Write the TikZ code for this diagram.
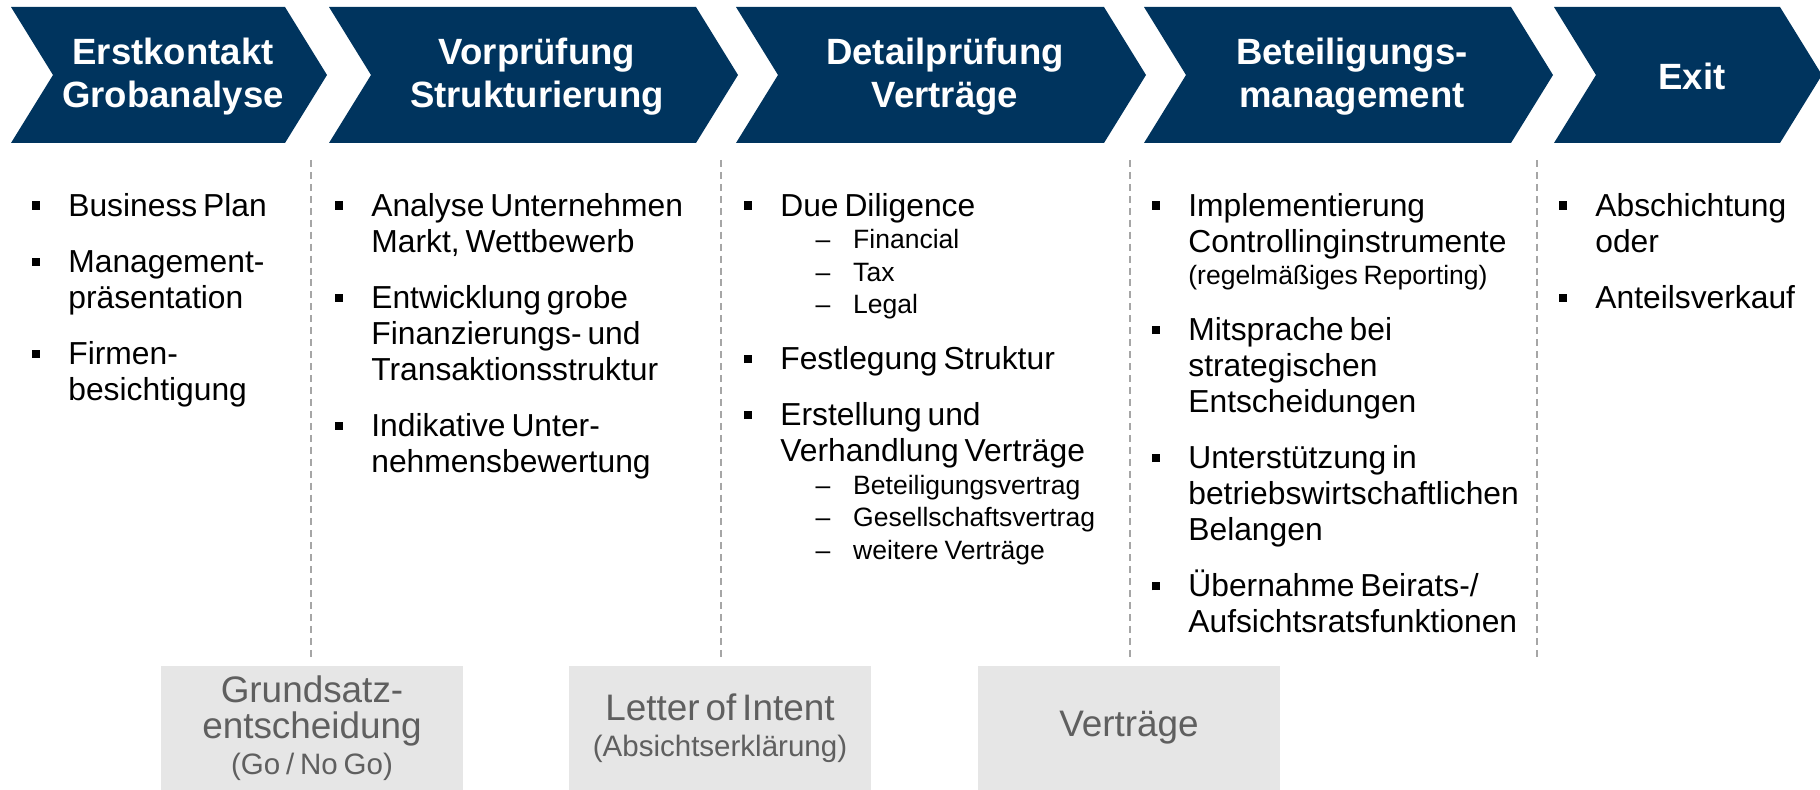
\documentclass[tikz,border=0pt]{standalone}
\usepackage{fontspec}
\setmainfont{Liberation Sans}
\definecolor{phaseblue}{RGB}{0,52,94}
\definecolor{boxgray}{RGB}{230,230,230}
\definecolor{boxtext}{RGB}{95,95,95}
\definecolor{sepgray}{RGB}{166,166,166}
\newcommand{\bodyfont}{\fontsize{18.1}{20.5}\selectfont}
\newcommand{\subfont}{\fontsize{15.1}{18.5}\selectfont}
\newcommand{\bitem}[1]{\par\addvspace{11.4pt}\noindent\llap{\rule[3.7pt]{4.6pt}{4.6pt}\hspace{15.9pt}}#1}
\newcommand{\sitem}[1]{\par{\subfont\noindent\hspace*{41.5pt}\llap{\textendash\hspace{13pt}}#1\par}}
\newcommand{\note}[1]{\par{\subfont\noindent #1\par}}
\newcommand{\chevron}[2]{\fill[phaseblue] (#1,7) -- (#2,7) -- ++(42,68) -- (#2,143) -- (#1,143) -- ++(42,-68) -- cycle;}
\tikzstyle{phase}=[text=white, inner sep=0, text width=200pt, align=center,
  execute at begin node={\bfseries\fontsize{20.8}{24.5}\selectfont}]
\tikzstyle{col}=[anchor=base west, inner sep=0, text width=210pt, align=left,
  execute at begin node=\bodyfont]
\tikzstyle{decision}=[fill=boxgray, text=boxtext, inner sep=0, minimum width=171.8pt,
  minimum height=70.6pt, text width=170pt, align=center,
  execute at begin node={\fontsize{21}{20.5}\selectfont}]
\tikzstyle{sep}=[sepgray, line width=0.7pt, dash pattern=on 4pt off 2.8pt]
\newcommand{\phase}{\node[phase]}
\newcommand{\col}{\node[col]}
\newcommand{\boxsmall}{\fontsize{16.8}{19.5}\selectfont}

\begin{document}
\begin{tikzpicture}[x=0.02cm, y=-0.02cm]
\useasboundingbox (0,0) rectangle (1820,790);
% phases
\chevron{11}{285}
\chevron{329}{696}
\chevron{736}{1104}
\chevron{1144}{1511}
\chevron{1554}{1780}
\phase (erst) at (173,77) {Erstkontakt\\Grobanalyse};
\phase (vor) at (537,77) {Vorprüfung\\Strukturierung};
\phase (detail) at (945,77) {Detailprüfung\\Verträge};
\phase (bet) at (1352,77) {Beteiligungs-\\management};
\phase (exit) at (1692,76) {Exit};
% separators
\foreach \x in {311,721,1130,1537}
  \draw[sep] (\x,160) -- (\x,658);
% activities
\col (c1) at (68,160) {\bitem{Business Plan}\bitem{Management-\\präsentation}\bitem{Firmen-\\besichtigung}};
\col (c2) at (371,160) {\bitem{Analyse Unternehmen\\Markt, Wettbewerb}\bitem{Entwicklung grobe\\Finanzierungs- und\\Transaktionsstruktur}\bitem{Indikative Unter-\\nehmensbewertung}};
\col (c3) at (780,160) {\bitem{Due Diligence}\sitem{Financial}\sitem{Tax}\sitem{Legal}\bitem{Festlegung Struktur}\bitem{Erstellung und\\Verhandlung Verträge}\sitem{Beteiligungsvertrag}\sitem{Gesellschaftsvertrag}\sitem{weitere Verträge}};
\col (c4) at (1188,160) {\bitem{Implementierung\\Controllinginstrumente}\note{(regelmäßiges Reporting)}\bitem{Mitsprache bei\\strategischen\\Entscheidungen}\bitem{Unterstützung in\\betriebswirtschaftlichen\\Belangen}\bitem{Übernahme Beirats-/\\Aufsichtsratsfunktionen}};
\col (c5) at (1595,160) {\bitem{Abschichtung\\oder}\bitem{Anteilsverkauf}};
% decisions
\node[decision] (go) at (312,728) {Grundsatz-\\entscheidung\\{\boxsmall(Go / No Go)}};
\node[decision] (loi) at (720,728) {Letter of Intent\\{\boxsmall(Absichtserklärung)}};
\node[decision] (vtr) at (1129,728) {Verträge};
\end{tikzpicture}
\end{document}
